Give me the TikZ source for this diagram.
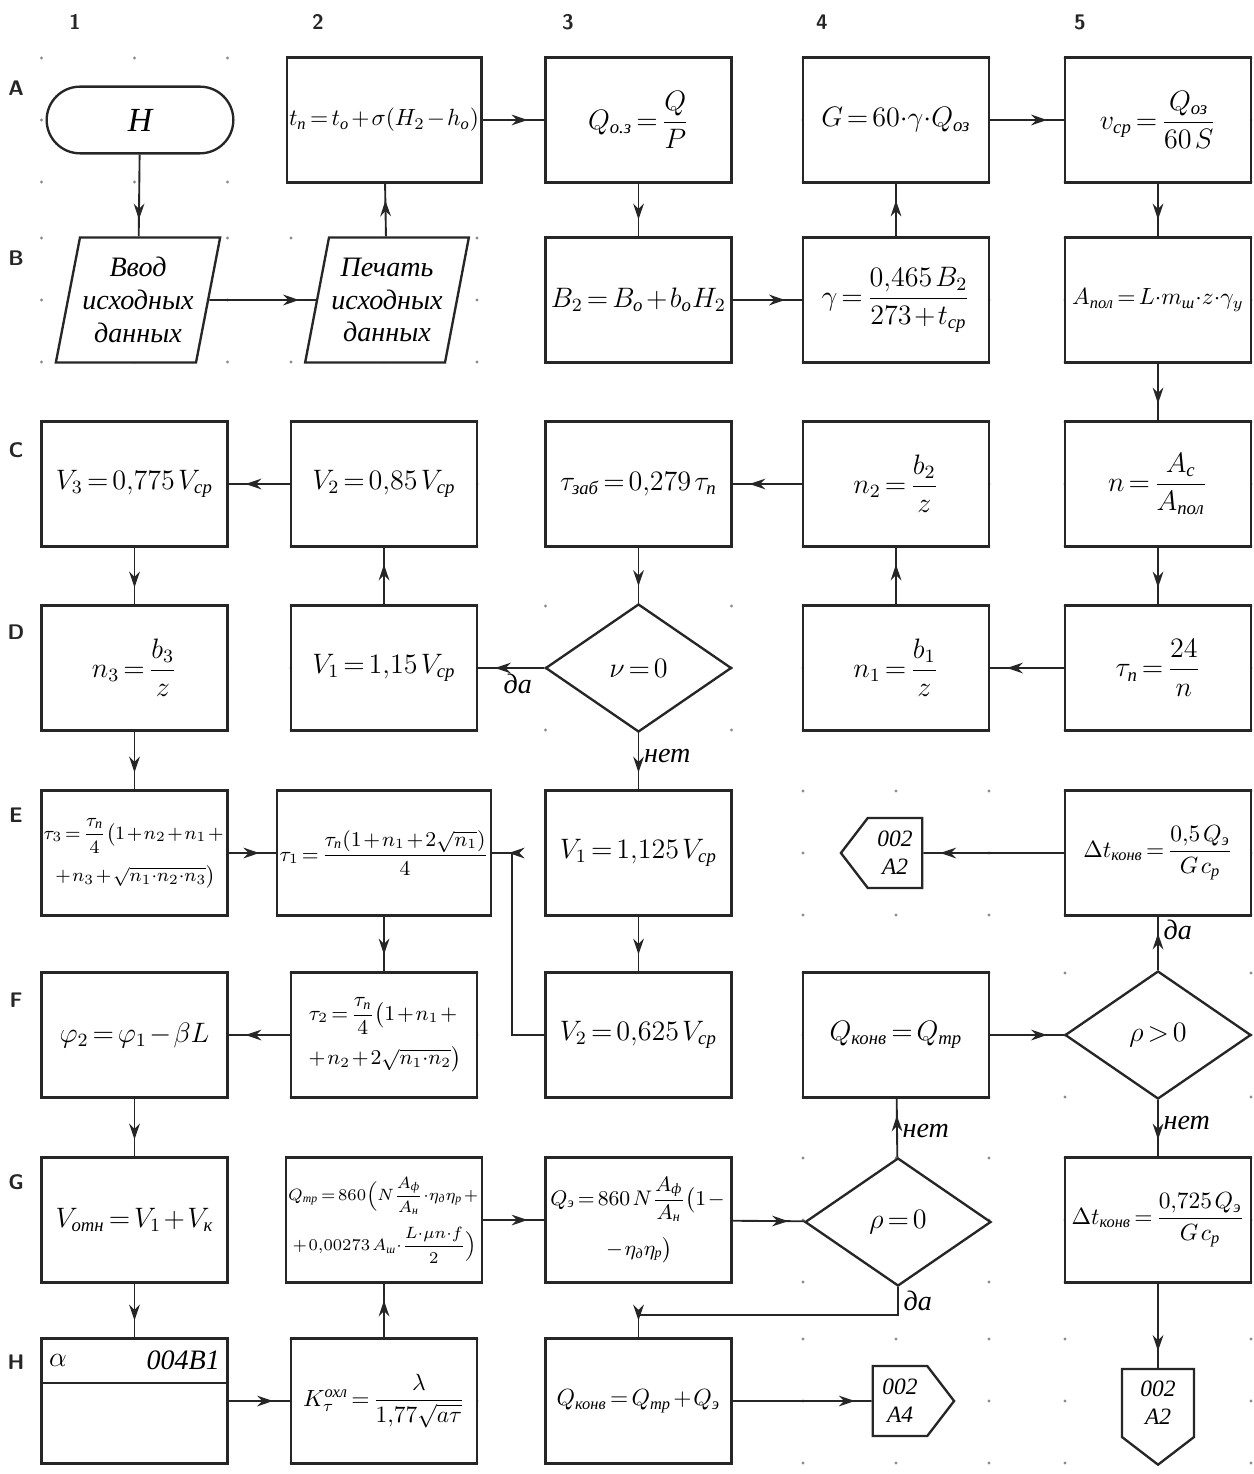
\documentclass[tikz,border=0pt]{standalone}
\usepackage{amsmath}
\usepackage{fontspec}
\setmainfont{Liberation Serif}
\usetikzlibrary{shapes.geometric,shapes.symbols,decorations.markings,arrows.meta}
\colorlet{ink}{black!85}
\newcommand{\rsub}[1]{\text{\itshape #1}}

\begin{document}
\thickmuskip=2.5mu \medmuskip=1.5mu \thinmuskip=2mu
\begin{tikzpicture}[x=0.15mm,y=-0.15mm,font=\large,line width=0.8pt,draw=ink,
  box/.style={draw=ink,rectangle,fill=white,minimum width=27.9mm,minimum height=18.75mm,
    inner sep=1pt,align=center,line width=1pt},
  term/.style={draw=ink,rectangle,rounded corners=5mm,fill=white,minimum width=28mm,
    minimum height=10mm,line width=1pt},
  io/.style={draw=ink,trapezium,trapezium left angle=75,trapezium right angle=105,
    trapezium stretches body,minimum width=21.8mm,minimum height=18.75mm,fill=white,
    inner sep=1pt,align=center,line width=1pt,font=\large\itshape},
  dec/.style={draw=ink,diamond,fill=white,minimum width=27.9mm,minimum height=19.2mm,
    inner sep=0pt,line width=1pt},
  offpage/.style={draw=ink,signal,signal pointer angle=105,fill=white,inner sep=1pt,
    align=center,line width=1pt,font=\normalsize\itshape},
  ans/.style={font=\large\itshape,inner sep=2pt},
  lbl/.style={font=\small\sffamily\bfseries,text=ink},
  flow/.style={draw=ink,postaction={decorate},decoration={markings,
    mark=at position -2.5mm with {\arrow{Stealth[length=2.4mm,width=1.6mm]}}}}]
  \useasboundingbox (0,0) rectangle (1254,1474);
  % grid marks of the sheet
  \foreach \x in {134.5,384,638.5,896,1158}
    \foreach \y in {120,300,484,668,853,1035,1220,1401}
      \foreach \dx/\dy in {-93/-62,0/-62,93/-62,-93/0,93/0,-93/62,0/62,93/62}
        \fill[black!45] (\x+\dx,\y+\dy) circle (0.25mm);
  \foreach \c/\x in {1/75,2/318,3/568,4/822,5/1080}
    \node[lbl] (col\c) at (\x,22) {\c};
  \foreach \r/\y in {A/88,B/258,C/450,D/632,E/815,F/1000,G/1182,H/1362}
    \node[lbl] (row\r) at (16,\y) {\r};
  % row A
  \node[term,font=\Large\itshape] (a1) at (140,120) {Н};
  \node[box,font=\normalsize] (a2) at (384,120) {$t_\rsub{п}=t_\rsub{о}+\sigma(H_2-h_\rsub{о})$};
  \node[box] (a3) at (638.5,120) {$Q_{\rsub{о.з}}=\dfrac{Q}{P}$};
  \node[box] (a4) at (896,120) {$G=60{\cdot}\gamma{\cdot}Q_{\rsub{оз}}$};
  \node[box] (a5) at (1158,120) {$v_{\rsub{ср}}=\dfrac{Q_{\rsub{оз}}}{60\,S}$};
  % row B
  \node[io] (b1) at (138,300) {Ввод\\исходных\\данных};
  \node[io] (b2) at (387,300) {Печать\\исходных\\данных};
  \node[box] (b3) at (638.5,300) {$B_2=B_\rsub{о}+b_\rsub{о}H_2$};
  \node[box] (b4) at (896,300) {$\gamma=\dfrac{0{,}465\,B_2}{273+t_{\rsub{ср}}}$};
  \node[box,font=\normalsize] (b5) at (1158,300) {$A_{\rsub{пол}}=L{\cdot}m_{\rsub{ш}}{\cdot}z{\cdot}\gamma_y$};
  % row C
  \node[box] (c1) at (134.5,484) {$V_3=0{,}775\,V_{\rsub{ср}}$};
  \node[box] (c2) at (384,484) {$V_2=0{,}85\,V_{\rsub{ср}}$};
  \node[box] (c3) at (638.5,484) {$\tau_{\rsub{заб}}=0{,}279\,\tau_\rsub{п}$};
  \node[box] (c4) at (896,484) {$n_2=\dfrac{b_2}{z}$};
  \node[box] (c5) at (1158,484) {$n=\dfrac{A_\rsub{с}}{A_{\rsub{пол}}}$};
  % row D
  \node[box] (d1) at (134.5,668) {$n_3=\dfrac{b_3}{z}$};
  \node[box] (d2) at (384,668) {$V_1=1{,}15\,V_{\rsub{ср}}$};
  \node[dec] (d3) at (638.5,668) {$\nu=0$};
  \node[box] (d4) at (896,668) {$n_1=\dfrac{b_1}{z}$};
  \node[box] (d5) at (1158,668) {$\tau_\rsub{п}=\dfrac{24}{n}$};
  % row E
  \node[box,font=\footnotesize] (e1) at (134.5,853)
    {$\tau_3=\dfrac{\tau_\rsub{п}}{4}\bigl(1+n_2+n_1+{}$\\[1.5mm]${}+n_3+\sqrt{n_1{\cdot}n_2{\cdot}n_3}\bigr)$};
  \node[box,font=\small] (e2) at (384,853) {$\tau_1=\dfrac{\tau_\rsub{п}(1+n_1+2\sqrt{n_1})}{4}$};
  \node[box] (e3) at (638.5,853) {$V_1=1{,}125\,V_{\rsub{ср}}$};
  \node[offpage,signal to=west,minimum width=12.2mm,minimum height=10.5mm] (toA2) at (895,853) {002\\A2};
  \node[box,font=\normalsize] (e5) at (1158,853) {$\Delta t_{\rsub{конв}}=\dfrac{0{,}5\,Q_\rsub{э}}{G\,c_\rsub{р}}$};
  % row F
  \node[box] (f1) at (134.5,1035) {$\varphi_2=\varphi_1-\beta L$};
  \node[box,font=\small] (f2) at (384,1035)
    {$\tau_2=\dfrac{\tau_\rsub{п}}{4}\bigl(1+n_1+{}$\\[1.5mm]${}+n_2+2\sqrt{n_1{\cdot}n_2}\bigr)$};
  \node[box] (f3) at (638.5,1035) {$V_2=0{,}625\,V_{\rsub{ср}}$};
  \node[box] (f4) at (896,1035) {$Q_{\rsub{конв}}=Q_{\rsub{тр}}$};
  \node[dec] (f5) at (1158,1035) {$\rho>0$};
  % row G
  \node[box] (g1) at (134.5,1220) {$V_{\rsub{отн}}=V_1+V_\rsub{к}$};
  \node[box,font=\scriptsize] (g2) at (384,1220)
    {$Q_{\rsub{тр}}=860\Bigl(N\dfrac{A_\rsub{ф}}{A_\rsub{н}}{\cdot}\eta_\rsub{д}\eta_\rsub{р}+{}$\\[1.5mm]${}+0{,}00273\,A_{\rsub{ш}}{\cdot}\dfrac{L{\cdot}\mu n{\cdot}f}{2}\Bigr)$};
  \node[box,font=\small] (g3) at (638.5,1220)
    {$Q_\rsub{э}=860\,N\dfrac{A_\rsub{ф}}{A_\rsub{н}}\bigl(1-{}$\\[2mm]${}-\eta_\rsub{д}\eta_\rsub{р}\bigr)$};
  \node[dec] (g4) at (898,1222) {$\rho=0$};
  \node[box,font=\normalsize] (g5) at (1158,1220) {$\Delta t_{\rsub{конв}}=\dfrac{0{,}725\,Q_\rsub{э}}{G\,c_\rsub{р}}$};
  % row H
  \node[box] (h1) at (134.5,1401) {};
  \draw[line width=1pt] ([yshift=-6.8mm]h1.north west) -- ([yshift=-6.8mm]h1.north east);
  \node[right] (h1a) at ([yshift=-3.4mm]h1.north west) {$\alpha$};
  \node[left,font=\large\itshape] (h1b) at ([yshift=-3.4mm]h1.north east) {004B1};
  \node[box,font=\normalsize] (h2) at (384,1401) {$K_\tau^{\rsub{охл}}=\dfrac{\lambda}{1{,}77\sqrt{a\tau}}$};
  \node[box,font=\normalsize] (h3) at (638.5,1401) {$Q_{\rsub{конв}}=Q_{\rsub{тр}}+Q_\rsub{э}$};
  \node[offpage,signal to=east,minimum width=12.2mm,minimum height=10.5mm] (toA4) at (900,1401) {002\\A4};
  \node[offpage,signal to=south,minimum width=10.8mm,minimum height=12.5mm] (toA2b) at (1158,1403) {002\\A2};
  \coordinate (jn) at (512,853);
  \coordinate (jd) at (898,1315);
  % connectors
  \draw[flow] (a1) -- (b1);
  \draw[flow] (b1) -- (b2);
  \draw[flow] (b2) -- (a2);
  \draw[flow] (a2) -- (a3);
  \draw[flow] (a3) -- (b3);
  \draw[flow] (b3) -- (b4);
  \draw[flow] (b4) -- (a4);
  \draw[flow] (a4) -- (a5);
  \draw[flow] (a5) -- (b5);
  \draw[flow] (b5) -- (c5);
  \draw[flow] (c5) -- (d5);
  \draw[flow] (d5) -- (d4);
  \draw[flow] (d4) -- (c4);
  \draw[flow] (c4) -- (c3);
  \draw[flow] (c3) -- (d3);
  \draw[flow] (d3) -- node[ans,pos=0.4,below] {да} (d2);
  \draw[flow] (d3) -- node[ans,pos=0.4,right] {нет} (e3);
  \draw[flow] (d2) -- (c2);
  \draw[flow] (c2) -- (c1);
  \draw[flow] (c1) -- (d1);
  \draw[flow] (d1) -- (e1);
  \draw[flow] (e1) -- (e2);
  \draw[flow] (e3) -- (f3);
  \draw[flow] (f3.west) -| (jn) -- (e2.east);
  \draw[flow] (e2) -- (f2);
  \draw[flow] (f2) -- (f1);
  \draw[flow] (f1) -- (g1);
  \draw[flow] (g1) -- (h1);
  \draw[flow] (h1) -- (h2);
  \draw[flow] (h2) -- (g2);
  \draw[flow] (g2) -- (g3);
  \draw[flow] (g3) -- (g4);
  \draw[flow] (g4) -- node[ans,pos=0.45,right] {нет} (f4);
  \draw[flow] (g4.south) -- node[ans,right] {да} (jd) -| (h3.north);
  \draw[flow] (f4) -- (f5);
  \draw[flow] (f5) -- node[ans,pos=0.75,right] {да} (e5);
  \draw[flow] (f5) -- node[ans,pos=0.4,right] {нет} (g5);
  \draw[flow] (e5) -- (toA2);
  \draw[flow] (g5) -- (toA2b);
  \draw[flow] (h3) -- (toA4);
\end{tikzpicture}
\end{document}
